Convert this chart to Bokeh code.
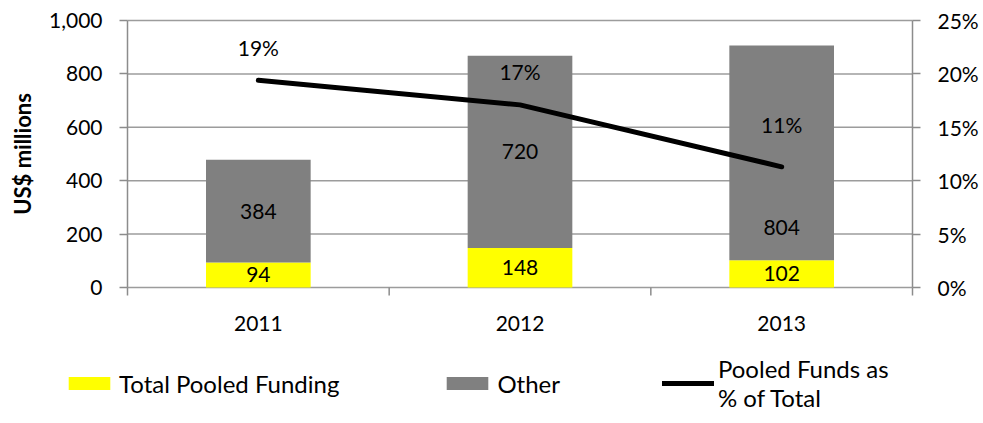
import math
from bokeh.plotting import figure
from bokeh.models import (Range1d, LinearAxis, FixedTicker,
                          NumeralTickFormatter, ColumnDataSource, Legend, LegendItem)
from bokeh.core.properties import value
from bokeh.embed import file_html
from bokeh.resources import INLINE

# ---- data ----
years = ["2011", "2012", "2013"]
pooled = [94, 148, 102]
other = [384, 720, 804]
pct_pooled = [0.194, 0.171, 0.113]
left_ticks = [0, 200, 400, 600, 800, 1000]
right_ticks = [0, 0.05, 0.10, 0.15, 0.20, 0.25]
series_names = ["Total Pooled Funding", "Other", "Pooled Funds as\n% of Total"]

# label nudges (pixels)
other_label_dy = [0, 0, 75]
pct_label_dy = [-33, -33, -42]

FONT = "Lato"
FS = "21px"
GRID = "#9c9c9c"
AXIS = "#8c8c8c"
YELLOW = "#FFFF00"
GRAY = "#808080"

# ---- layout (pixels): the frame fills the canvas, plot box inside it ----
W, H = 983, 423
BOX_L, BOX_R, BOX_T, BOX_B = 127, 912, 20, 287

n = len(years)
xpos = [i + 0.5 for i in range(n)]          # category slot centres
edges = list(range(n + 1))                  # category slot boundaries
ymax = left_ticks[-1]
pmax = right_ticks[-1]

xu = (BOX_R - BOX_L) / n                    # px per category slot
yu = (BOX_B - BOX_T) / ymax                 # px per value unit
x_lo, x_hi = -BOX_L / xu, n + (W - BOX_R) / xu
y_lo, y_hi = -(H - BOX_B) / yu, ymax + BOX_T / yu

src = ColumnDataSource(dict(
    x=xpos,
    base=[0] * n,
    year=years,
    pooled=pooled,
    other=other,
    pooled_mid=[v / 2 for v in pooled],
    other_mid=[a + b / 2 for a, b in zip(pooled, other)],
    pooled_txt=[str(v) for v in pooled],
    other_txt=[str(v) for v in other],
    other_dy=other_label_dy,
    pct=pct_pooled,
    pct_txt=[f"{v * 100:.0f}%" for v in pct_pooled],
    pct_dy=pct_label_dy,
))

p = figure(x_range=Range1d(x_lo, x_hi), y_range=Range1d(y_lo, y_hi),
           width=W, height=H, output_backend="svg", toolbar_location=None,
           x_axis_location=None, y_axis_location=None, min_border=0)
p.extra_y_ranges = {"pct": Range1d(y_lo / ymax * pmax, y_hi / ymax * pmax)}
p.outline_line_color = None
p.grid.visible = False

# horizontal gridlines across the plot box only
p.segment(x0=[0] * len(left_ticks), x1=[n] * len(left_ticks), y0=left_ticks, y1=left_ticks,
          line_color=GRID, line_width=1.5)

# left axis
ly = LinearAxis(ticker=FixedTicker(ticks=left_ticks), formatter=NumeralTickFormatter(format="0,0"),
                axis_label="US$ millions", bounds=(0, ymax), fixed_location=0)
# right axis
ry = LinearAxis(y_range_name="pct", ticker=FixedTicker(ticks=right_ticks),
                formatter=NumeralTickFormatter(format="0%"), bounds=(0, pmax), fixed_location=n)
for ax in (ly, ry):
    ax.axis_line_color = AXIS
    ax.axis_line_width = 1.5
    ax.major_tick_line_color = AXIS
    ax.major_tick_line_width = 1.5
    ax.major_tick_in = 0
    ax.major_tick_out = 8
    ax.minor_tick_line_color = None
    ax.major_label_text_font = FONT
    ax.major_label_text_font_size = FS
    ax.major_label_text_color = "black"
    ax.major_label_standoff = 17
ly.axis_label_text_font = FONT
ly.axis_label_text_font_size = "22px"
ly.axis_label_text_font_style = "bold"
ly.axis_label_text_color = "black"
ly.axis_label_standoff = 10
p.add_layout(ly, "left")
p.add_layout(ry, "right")

# bars
bars = p.vbar_stack(["pooled", "other"], x="x", width=0.4, color=[YELLOW, GRAY],
                    line_color=None, source=src)

# category boundary tick marks below the zero line
p.ray(x=edges, y=[0] * len(edges), length=8, length_units="screen", angle=-math.pi / 2,
      line_color=AXIS, line_width=1.5)

# line
ln = p.line(x="x", y="pct", y_range_name="pct", line_width=5, line_color="black",
            line_cap="round", line_join="round", source=src)

# labels
common = dict(text_font=value(FONT), text_font_size=FS, text_color="black",
              text_align="center", text_baseline="middle", source=src)
p.text(x="x", y="pooled_mid", text="pooled_txt", **common)
p.text(x="x", y="other_mid", text="other_txt", y_offset="other_dy", **common)
p.text(x="x", y="pct", text="pct_txt", y_offset="pct_dy", y_range_name="pct", **common)
# category labels
p.text(x="x", y="base", text="year", y_offset=36, **common)

legend = Legend(items=[LegendItem(label=series_names[0], renderers=[bars[0]]),
                       LegendItem(label=series_names[1], renderers=[bars[1]]),
                       LegendItem(label=series_names[2], renderers=[ln])],
                orientation="horizontal", location=(63, 11))
legend.label_text_font = FONT
legend.label_text_font_size = "24px"
legend.label_text_color = "black"
legend.glyph_width = 52
legend.glyph_height = 16
legend.label_standoff = 4
legend.spacing = 102
legend.padding = 0
legend.margin = 0
legend.border_line_color = None
legend.background_fill_alpha = 0
p.add_layout(legend, "center")

open("out.html", "w").write(file_html(p, INLINE))
